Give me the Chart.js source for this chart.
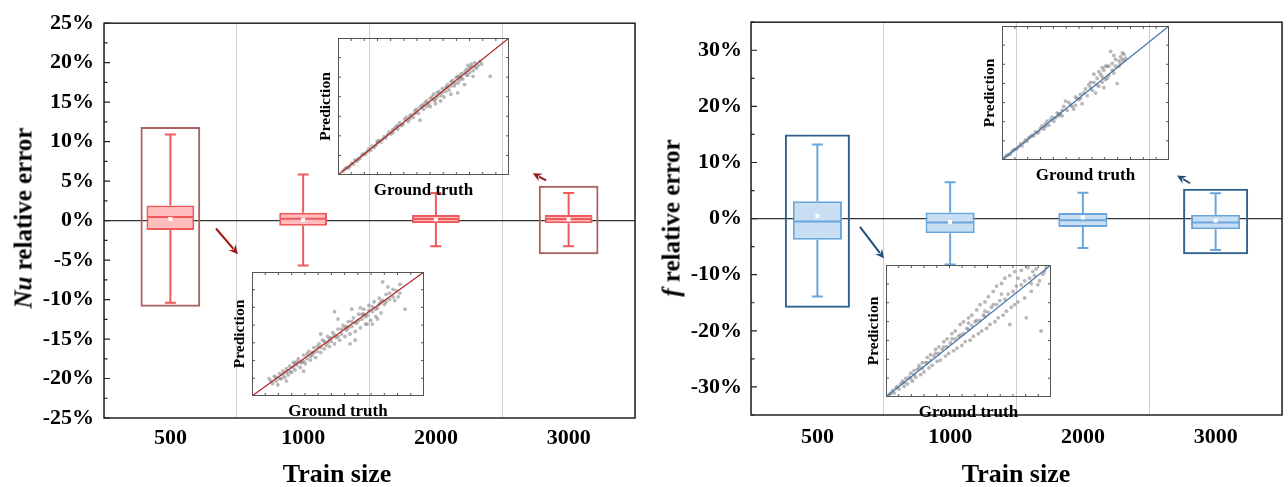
<!DOCTYPE html>
<html>
<head>
<meta charset="utf-8">
<script src="https://cdn.jsdelivr.net/npm/chart.js@4.4.1/dist/chart.umd.min.js"></script>
<style>
body { margin: 0; background: #fff; }
#wrap { position: relative; width: 1288px; height: 487px; overflow: hidden; font-family: "Liberation Serif", "Times New Roman", serif; }
canvas { position: absolute; }
.ytitle { position: absolute; white-space: nowrap; font-weight: bold; font-size: 25px; line-height: 1; transform: translate(-50%, -50%) rotate(-90deg); color: #000; }
.xtitle { position: absolute; white-space: nowrap; font-weight: bold; font-size: 26px; line-height: 1; transform: translate(-50%, -50%); color: #000; }
</style>
</head>
<body>
<div id="wrap">
  <canvas id="nuMain" width="660" height="487" style="left:0px;top:0px"></canvas>
  <canvas id="fMain" width="628" height="487" style="left:660px;top:0px"></canvas>
  <canvas id="nuIn3000" width="201" height="167" style="left:312px;top:34px"></canvas>
  <canvas id="nuIn500" width="202" height="154" style="left:226px;top:268px"></canvas>
  <canvas id="fIn3000" width="197" height="164" style="left:976px;top:22px"></canvas>
  <canvas id="fIn500" width="195" height="162" style="left:860px;top:261px"></canvas>
  <div class="ytitle" style="left:23px;top:218px"><i>Nu</i> relative error</div>
  <div class="ytitle" style="left:671px;top:218px"><i>f</i> relative error</div>
  <div class="xtitle" style="left:337px;top:474px">Train size</div>
  <div class="xtitle" style="left:1016px;top:474px">Train size</div>
</div>
<script>
// train sizes
var sizes = ['500', '1000', '2000', '3000'];

// Nu relative error (%), box stats
var nuMin  = [-10.4, -5.7, -3.25, -3.25];
var nuQ1   = [-1.2, -0.65, -0.3, -0.35];
var nuMed  = [0.45, 0.25, 0.2, 0.2];
var nuQ3   = [1.9, 1.0, 0.7, 0.7];
var nuMax  = [10.9, 5.85, 3.5, 3.5];
var nuMean = [0.2, 0.1, 0.15, 0.15];
var nuFrameLow  = [-10.9, null, null, -4.25];
var nuFrameHigh = [11.85, null, null, 4.4];
var nuTicks = [-25, -20, -15, -10, -5, 0, 5, 10, 15, 20, 25];

// f relative error (%), box stats
var fMin  = [-13.9, -8.2, -5.25, -5.6];
var fQ1   = [-3.75, -2.6, -1.5, -1.9];
var fMed  = [-0.5, -0.7, -0.3, -0.7];
var fQ3   = [3.1, 1.1, 1.0, 0.7];
var fMax  = [13.2, 6.5, 4.6, 4.5];
var fMean = [0.5, -0.6, 0.2, -0.35];
var fFrameLow  = [-15.9, null, null, -6.35];
var fFrameHigh = [15.0, null, null, 5.3];
var fTicks = [-30, -20, -10, 0, 10, 20, 30];

// inset scatter: [ground truth, prediction], normalised 0-100
var nuScatter3000 = [[3,3],[5,5.5],[6,5],[8,8.5],[9,8],[10,11],[12,11.5],[13,12.5],[15,15.5],[16,15],[18,19],[19,18],[20,21],[22,21.5],[24,25],[25,24],[27,28],[28,27],[30,31.5],[31,30],[33,34],[35,33.5],[36,38],[38,37],[40,42],[41,39],[43,44],[44,42],[46,48],[47,45],[49,51],[50,48],[51,53],[53,52],[54,50],[55,57],[57,55],[58,60],[60,58],[61,63],[62,57],[64,66],[65,62],[66,68],[68,65],[69,71],[70,67],[72,74],[73,70],[75,77],[76,73],[78,79],[79,76],[80,82],[82,80],[84,81],[70,60],[60,54],[89,72],[45,47],[35,36],[48,40],[56,59],[63,64],[71,72],[77,78],[52,54],[42,43],[32,33],[23,23.5],
  [4,4.5],[7,6.5],[11,10],[14,14.5],[17,17],[21,20],[23,24.5],[26,26],[29,29.5],[32,31],[34,35.5],[37,36],[39,40.5],[42,41],[45,45],[48,49.5],[50,51],[52,50],[54,56],[56,54.5],[58,57],[59,61],[61,60],[63,61],[64,64],[66,65],[67,69],[68,67],[70,72],[71,69],[72,71],[74,75],[75,73],[77,75],[78,81],[80,79],[81,78],[83,83],[74,66],[66,59],[79,72],[57,52],[76,80]];
var nuScatter500 = [[10,14],[12,10],[13,16],[14,12],[15,9],[16,18],[17,14],[18,20],[19,15],[20,22],[21,17],[22,24],[23,19],[24,27],[25,21],[26,25],[27,30],[28,23],[29,27],[30,33],[31,26],[32,30],[33,36],[34,29],[35,33],[36,39],[37,31],[38,36],[39,42],[40,35],[41,45],[42,38],[43,41],[44,48],[45,40],[46,44],[47,51],[48,68],[48,42],[49,47],[50,54],[51,45],[52,50],[53,57],[54,48],[55,53],[56,60],[57,50],[58,56],[59,63],[60,52],[61,59],[62,66],[63,55],[64,62],[65,70],[66,58],[67,65],[68,73],[69,61],[70,68],[71,76],[72,64],[73,71],[74,79],[75,67],[76,92],[77,74],[78,82],[80,78],[82,86],[85,80],[89,70],[86,90],[70,58],[60,45],[40,50],[30,20],[20,12],[45,46],[55,56],[65,66],[75,76],[35,35],[25,26],
  [11,12],[14,15],[16,14],[18,17],[20,19],[22,20],[24,23],[26,28],[28,27],[30,28],[32,34],[34,32],[36,35],[38,40],[40,39],[42,44],[44,43],[46,47],[48,49],[50,48],[52,54],[54,55],[56,55],[58,60],[60,59],[62,61],[64,66],[66,64],[68,69],[70,72],[72,70],[74,74],[76,77],[78,76],[80,83],[82,80],[84,85],[67,58],[73,62],[58,70],[63,71],[79,88],[86,83],[83,77],[57,42],[50,62]];
var fScatter3000 = [[1,1],[3,3.5],[5,4.5],[7,7.5],[9,8.5],[11,12],[12,10.5],[14,15],[15,14],[17,17.5],[19,18],[20,21],[22,21],[24,25.5],[25,23],[27,29],[28,26],[30,32],[31,29],[33,35],[35,34],[36,33],[37,40],[39,37],[40,43],[42,40],[43,38],[44,47],[46,45],[47,49],[48,42],[50,53],[51,48],[52,56],[54,52],[55,58],[56,50],[57,61],[58,55],[59,64],[60,58],[61,67],[62,60],[63,70],[64,63],[65,81],[66,72],[67,65],[68,75],[69,57],[70,70],[71,77],[72,80],[73,74],[74,76],[62,70],[38,44],[55,64],[10,10],[18,18.5],[26,27],[34,34.5],
  [2,2.5],[4,4],[6,6.5],[8,8],[13,13],[16,16.5],[21,20],[23,23.5],[26,25],[29,30],[32,31.5],[34,33],[36,37],[41,41],[45,46],[49,50],[53,54],[57,56],[60,62],[63,61],[66,67],[68,70],[70,74],[72,75],[58,66],[61,54],[64,70],[67,78],[71,72],[73,79],[60,69],[53,58],[47,46],[44,41]];
var fScatter500 = [[2,2],[4,5],[5,3],[7,8],[8,6],[10,12],[11,8],[12,14],[13,10],[15,18],[16,12],[17,20],[18,15],[20,24],[21,17],[22,26],[23,19],[25,30],[26,22],[27,32],[28,24],[30,36],[31,27],[32,38],[33,28],[35,42],[36,31],[37,44],[38,33],[40,48],[41,35],[42,50],[43,37],[45,55],[46,39],[47,57],[48,42],[50,60],[51,43],[52,62],[53,46],[55,66],[56,48],[57,70],[58,50],[60,72],[61,52],[62,76],[63,55],[65,80],[66,57],[67,84],[68,60],[70,86],[71,62],[72,90],[73,65],[75,92],[76,68],[78,95],[80,72],[82,96],[84,75],[86,98],[88,80],[90,92],[92,85],[94,50],[96,95],[85,60],[75,55],[55,58],[45,47],[35,38],[65,70],[15,14],[25,26],[50,51],[60,61],
  [3,3],[6,7],[9,10],[11,11],[14,15],[17,17],[19,21],[22,22],[24,26],[27,28],[29,31],[32,33],[34,36],[37,38],[39,41],[42,44],[44,46],[47,48],[49,52],[52,54],[54,57],[57,58],[59,62],[62,64],[64,68],[67,70],[69,73],[72,74],[74,78],[77,80],[79,84],[82,85],[84,88],[87,90],[89,95],[91,97],[93,88],[95,93],[80,90],[70,78],[60,65],[50,56],[40,44],[30,33],[20,22],[78,70],[88,86],[97,98]];

// arrows in data space [x0, y0, x1, y1] (x = category index)
var nuArrows = [[0.344, -1.0, 0.509, -4.25], [2.83, 5.1, 2.73, 6.0]];
var fArrows  = [[0.321, -1.46, 0.502, -7.1], [2.807, 6.3, 2.709, 7.7]];

Chart.defaults.font.family = '"Liberation Serif", "Times New Roman", serif';
Chart.defaults.font.weight = 'bold';
Chart.defaults.color = '#000';

function arrow(ctx, x0, y0, x1, y1, color) {
  var a = Math.atan2(y1 - y0, x1 - x0), h = 10;
  ctx.strokeStyle = color; ctx.fillStyle = color; ctx.lineWidth = 2;
  ctx.beginPath();
  ctx.moveTo(x0, y0);
  ctx.lineTo(x1 - Math.cos(a) * h * 0.7, y1 - Math.sin(a) * h * 0.7);
  ctx.stroke();
  ctx.beginPath();
  ctx.moveTo(x1, y1);
  ctx.lineTo(x1 - h * Math.cos(a - 0.45), y1 - h * Math.sin(a - 0.45));
  ctx.lineTo(x1 - h * 0.6 * Math.cos(a), y1 - h * 0.6 * Math.sin(a));
  ctx.lineTo(x1 - h * Math.cos(a + 0.45), y1 - h * Math.sin(a + 0.45));
  ctx.closePath();
  ctx.fill();
}

var boxDraw = {
  id: 'boxDraw',
  afterDatasetsDraw: function(chart, args, o) {
    var ctx = chart.ctx, x = chart.scales.x, y = chart.scales.y;
    var meta = chart.getDatasetMeta(1);
    ctx.save();
    ctx.strokeStyle = o.color;
    ctx.lineWidth = 2;
    for (var i = 0; i < o.min.length; i++) {
      var cx = x.getPixelForValue(i);
      var half = meta.data[i].width / 2 - 1;
      var cap = o.capW / 2;
      ctx.beginPath();
      ctx.moveTo(cx, y.getPixelForValue(o.q3[i])); ctx.lineTo(cx, y.getPixelForValue(o.max[i]));
      ctx.moveTo(cx, y.getPixelForValue(o.q1[i])); ctx.lineTo(cx, y.getPixelForValue(o.min[i]));
      ctx.moveTo(cx - cap, y.getPixelForValue(o.max[i])); ctx.lineTo(cx + cap, y.getPixelForValue(o.max[i]));
      ctx.moveTo(cx - cap, y.getPixelForValue(o.min[i])); ctx.lineTo(cx + cap, y.getPixelForValue(o.min[i]));
      ctx.moveTo(cx - half, y.getPixelForValue(o.med[i])); ctx.lineTo(cx + half, y.getPixelForValue(o.med[i]));
      ctx.stroke();
      var my = y.getPixelForValue(o.mean[i]);
      ctx.fillStyle = '#fff';
      ctx.fillRect(cx - 2, my - 2, 4, 4);
    }
    o.arrows.forEach(function(a) {
      arrow(ctx, x.getPixelForValue(a[0]), y.getPixelForValue(a[1]),
            x.getPixelForValue(a[2]), y.getPixelForValue(a[3]), o.arrowColor);
    });
    // frame and inward ticks
    var ca = chart.chartArea;
    ctx.strokeStyle = '#222';
    ctx.lineWidth = 1.5;
    ctx.strokeRect(ca.left, ca.top, ca.right - ca.left, ca.bottom - ca.top);
    ctx.lineWidth = 1.2;
    ctx.beginPath();
    for (var k = 0; k < o.ticks.length; k++) {
      var py = y.getPixelForValue(o.ticks[k]);
      ctx.moveTo(ca.left, py); ctx.lineTo(ca.left + 6, py);
    }
    var step = (o.ticks[1] - o.ticks[0]) / 2;
    for (var v = y.min; v <= y.max + 0.001; v += step) {
      var p = y.getPixelForValue(v);
      ctx.moveTo(ca.left, p); ctx.lineTo(ca.left + 3.5, p);
    }
    ctx.stroke();
    ctx.restore();
  }
};

function mainChart(id, d) {
  new Chart(document.getElementById(id), {
    type: 'bar',
    data: {
      labels: sizes,
      datasets: [
        {
          data: d.frameLow.map(function(v, i) { return v === null ? null : [v, d.frameHigh[i]]; }),
          backgroundColor: 'rgba(0,0,0,0)',
          borderColor: d.frameColor,
          borderWidth: 2,
          borderSkipped: false,
          grouped: false,
          categoryPercentage: 1,
          barPercentage: d.frameW
        },
        {
          data: d.q1.map(function(v, i) { return [v, d.q3[i]]; }),
          backgroundColor: d.fill,
          borderColor: d.color,
          borderWidth: 2,
          borderSkipped: false,
          grouped: false,
          categoryPercentage: 1,
          barPercentage: d.boxW
        }
      ]
    },
    options: {
      responsive: false,
      animation: false,
      devicePixelRatio: 1,
      layout: { padding: d.padding },
      plugins: {
        legend: { display: false },
        tooltip: { enabled: false },
        boxDraw: {
          min: d.min, q1: d.q1, med: d.med, q3: d.q3, max: d.max, mean: d.mean,
          color: d.color, capW: 11, arrows: d.arrows, arrowColor: d.arrowColor, ticks: d.ticks
        }
      },
      scales: {
        x: {
          grid: { color: '#cfcfcf', lineWidth: 1, drawTicks: false },
          border: { display: false },
          ticks: { font: { size: 22, weight: 'bold' }, padding: d.xPad, color: '#000' },
          afterFit: function(s) { s.height = d.xH; }
        },
        y: {
          min: d.yMin, max: d.yMax,
          afterBuildTicks: function(s) { s.ticks = d.ticks.map(function(v) { return { value: v }; }); },
          grid: {
            drawTicks: false,
            color: function(c) { return c.tick && c.tick.value === 0 ? '#333' : 'rgba(0,0,0,0)'; },
            lineWidth: 1.2
          },
          border: { display: false },
          ticks: { font: { size: 22, weight: 'bold' }, padding: d.yPad, color: '#000',
                   callback: function(v) { return v + '%'; } },
          afterFit: function(s) { s.width = d.yW; }
        }
      }
    },
    plugins: [boxDraw]
  });
}

mainChart('nuMain', {
  min: nuMin, q1: nuQ1, med: nuMed, q3: nuQ3, max: nuMax, mean: nuMean,
  frameLow: nuFrameLow, frameHigh: nuFrameHigh, ticks: nuTicks, yMin: -25, yMax: 25,
  color: '#f05a5a', fill: '#ffbdbd', frameColor: '#a86262', arrowColor: '#9b1616',
  frameW: 0.45, boxW: 0.36, arrows: nuArrows,
  padding: { top: 19, right: 25, left: 0, bottom: 0 }, yW: 104, xH: 69, xPad: 7, yPad: 10
});

mainChart('fMain', {
  min: fMin, q1: fQ1, med: fMed, q3: fQ3, max: fMax, mean: fMean,
  frameLow: fFrameLow, frameHigh: fFrameHigh, ticks: fTicks, yMin: -35, yMax: 35,
  color: '#69a6dc', fill: '#c8def2', frameColor: '#2f5f8c', arrowColor: '#244f7a',
  frameW: 0.49, boxW: 0.37, arrows: fArrows,
  padding: { top: 18, right: 6, left: 0, bottom: 0 }, yW: 91, xH: 72, xPad: 9, yPad: 9
});

var insetFrame = {
  id: 'insetFrame',
  afterDraw: function(chart, args, o) {
    var ctx = chart.ctx, ca = chart.chartArea;
    var w = ca.right - ca.left, h = ca.bottom - ca.top;
    ctx.save();
    ctx.strokeStyle = '#555';
    ctx.lineWidth = 1;
    ctx.strokeRect(ca.left + 0.5, ca.top + 0.5, w - 1, h - 1);
    ctx.beginPath();
    for (var i = 1; i < o.nx; i++) {
      var px = ca.left + w * i / o.nx;
      ctx.moveTo(px, ca.bottom); ctx.lineTo(px, ca.bottom - 3);
      ctx.moveTo(px, ca.top); ctx.lineTo(px, ca.top + 3);
    }
    for (var j = 1; j < o.ny; j++) {
      var py = ca.top + h * j / o.ny;
      ctx.moveTo(ca.left, py); ctx.lineTo(ca.left + 3, py);
      ctx.moveTo(ca.right, py); ctx.lineTo(ca.right - 3, py);
    }
    ctx.stroke();
    ctx.restore();
  }
};

function insetChart(id, pts, lineColor) {
  new Chart(document.getElementById(id), {
    type: 'scatter',
    data: {
      datasets: [
        {
          type: 'line',
          data: [{ x: 0, y: 0 }, { x: 100, y: 100 }],
          borderColor: lineColor, borderWidth: 1.2, pointRadius: 0
        },
        {
          data: pts.map(function(p) { return { x: p[0], y: p[1] }; }),
          pointRadius: 1.9, pointBackgroundColor: 'rgba(125,125,125,0.55)', pointBorderWidth: 0
        }
      ]
    },
    options: {
      responsive: false,
      animation: false,
      devicePixelRatio: 1,
      layout: { padding: { top: 4, right: 4, left: 0, bottom: 0 } },
      plugins: { legend: { display: false }, tooltip: { enabled: false }, insetFrame: { nx: 13, ny: 7 } },
      scales: {
        x: {
          min: 0, max: 100,
          grid: { display: false }, border: { display: false },
          ticks: { display: false },
          title: { display: true, text: 'Ground truth', font: { size: 17, weight: 'bold', lineHeight: 1 }, padding: { top: 0, bottom: 2 }, color: '#000' },
          afterFit: function(s) { s.height = 26; }
        },
        y: {
          min: 0, max: 100,
          grid: { display: false }, border: { display: false },
          ticks: { display: false },
          title: { display: true, text: 'Prediction', font: { size: 15.5, weight: 'bold', lineHeight: 1 }, padding: { top: 6, bottom: 0 }, color: '#000' },
          afterFit: function(s) { s.width = 26; }
        }
      }
    },
    plugins: [insetFrame]
  });
}

insetChart('nuIn3000', nuScatter3000, '#b22222');
insetChart('nuIn500', nuScatter500, '#b22222');
insetChart('fIn3000', fScatter3000, '#3f72a8');
insetChart('fIn500', fScatter500, '#3f72a8');
</script>
</body>
</html>
